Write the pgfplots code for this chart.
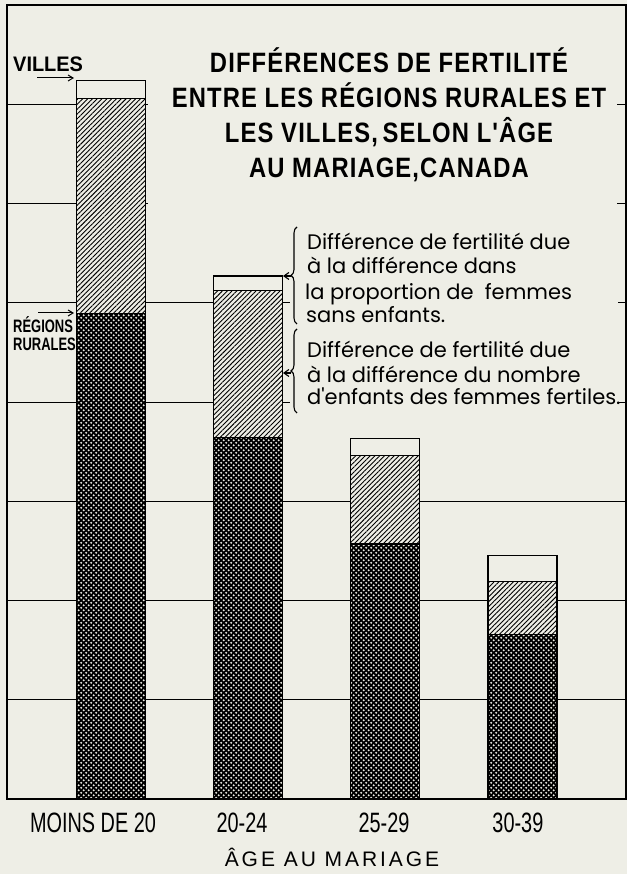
\documentclass[border=0pt]{standalone}
\usepackage{pgfplots}
\pgfplotsset{compat=1.18}
\usetikzlibrary{patterns.meta,decorations.pathreplacing,arrows.meta}
\usepackage{fontspec}
\setmainfont{Liberation Sans}
\newfontfamily\cond{Liberation Sans}[FakeStretch=0.71]
\newfontfamily\titlef{Liberation Sans}[FakeStretch=0.85,LetterSpace=4]
\newfontfamily\villef{Liberation Sans}[FakeStretch=0.95]
\newfontfamily\ruralf{Liberation Sans}[FakeStretch=0.72]
\newfontfamily\spacedf{Liberation Sans}[LetterSpace=14]
\newfontfamily\hand{Poppins}
\definecolor{paper}{RGB}{238,238,230}

\tikzdeclarepattern{
  name=holes,
  type=uncolored,
  bottom left={(0pt,0pt)},
  top right={(5.4pt,5.4pt)},
  tile size={(5.4pt,5.4pt)},
  code={
    \fill[even odd rule] (0pt,0pt) rectangle (5.4pt,5.4pt)
      (1.35pt,1.35pt) circle (1.4pt) (4.05pt,4.05pt) circle (1.4pt);
  }
}

\begin{document}
\begin{tikzpicture}
\begin{scope}[x=1pt,y=1pt]
\fill[paper] (0,0) rectangle (627,874);
\end{scope}

\begin{axis}[
    at={(7pt,75pt)}, anchor=south west,
    width=619pt, height=794pt, scale only axis,
    xmin=-0.758, xmax=3.754,
    ymin=0, ymax=8,
    ytick={1,...,7}, yticklabels={},
    ymajorgrids, grid style={black, line width=0.9pt},
    major tick length=0,
    xtick={-0.131,0.955,1.99,2.966},
    xticklabels={MOINS DE 20,20-24,25-29,30-39},
    xticklabel style={font=\cond\fontsize{28}{28}\selectfont, anchor=base, yshift=-34pt},
    axis line style={line width=1.5pt},
    ybar stacked, bar width=69pt,
]
% regions rurales
\addplot[draw=black, line width=1.2pt, fill=paper,
    postaction={pattern=holes, pattern color=black}]
    coordinates {(0,4.89) (1,3.64) (2,2.57) (3,1.66)};
% difference due au nombre d'enfants des femmes fertiles
\addplot[draw=black, line width=1.2pt, fill=paper,
    postaction={pattern={Lines[angle=45,distance=3.4pt,line width=0.9pt]}, pattern color=black}]
    coordinates {(0,2.17) (1,1.48) (2,0.89) (3,0.53)};
% difference due aux femmes sans enfants (villes)
\addplot[draw=black, line width=1.2pt, fill=paper]
    coordinates {(0,0.18) (1,0.15) (2,0.17) (3,0.26)};
\end{axis}

\begin{scope}[x=1pt,y=1pt]
% boxes hiding the grid behind the texts
\fill[paper] (148,659) rectangle (617,834);
\fill[paper] (290,456) rectangle (618,652);

\node[align=center, font=\titlef\bfseries\fontsize{28}{35}\selectfont] at (389,759)
  {DIFFÉRENCES DE FERTILITÉ\\ENTRE LES RÉGIONS RURALES ET\\LES VILLES,\,SELON L'ÂGE\\AU MARIAGE,CANADA};

\begin{scope}[every node/.style={anchor=base west, inner sep=0pt, font=\hand\fontsize{21}{25}\selectfont}]
\node at (307,624) {Différence de fertilité due};
\node at (307,600) {à la différence dans};
\node at (305,574) {la proportion de \ femmes};
\node at (306,551) {sans enfants.};
\node at (307,516) {Différence de fertilité due};
\node at (307,491) {à la différence du nombre};
\node at (307,469) {d'enfants des femmes fertiles.};
\end{scope}

\draw[line width=1.1pt, decorate, decoration={brace, amplitude=6pt}] (297,550) -- (297,647);
\draw[line width=1.1pt, -{Straight Barb[length=5pt,width=7pt]}] (291,598) -- (283,598);
\draw[line width=1.1pt, decorate, decoration={brace, amplitude=6pt}] (297,461) -- (297,545);
\draw[line width=1.1pt, -{Straight Barb[length=5pt,width=7pt]}] (291,501) -- (283,501);

\node[anchor=base west, inner sep=0pt, font=\villef\bfseries\fontsize{21}{21}\selectfont] at (13,802) {VILLES};
\draw[line width=1pt, -{Straight Barb[length=5pt,width=6pt]}] (37,796) -- (74,796);

\node[anchor=base west, inner sep=0pt, font=\ruralf\bfseries\fontsize{18}{18}\selectfont] at (13,541) {RÉGIONS};
\node[anchor=base west, inner sep=0pt, font=\ruralf\bfseries\fontsize{18}{18}\selectfont] at (13,523) {RURALES};
\draw[line width=1pt, -{Straight Barb[length=5pt,width=6pt]}] (38,561) -- (74,561);

\node[anchor=base, inner sep=0pt, font=\spacedf\fontsize{21}{21}\selectfont] at (332,7) {ÂGE AU MARIAGE};
\end{scope}
\pgfresetboundingbox
\path (0,0) rectangle (627pt,874pt);
\end{tikzpicture}
\end{document}
